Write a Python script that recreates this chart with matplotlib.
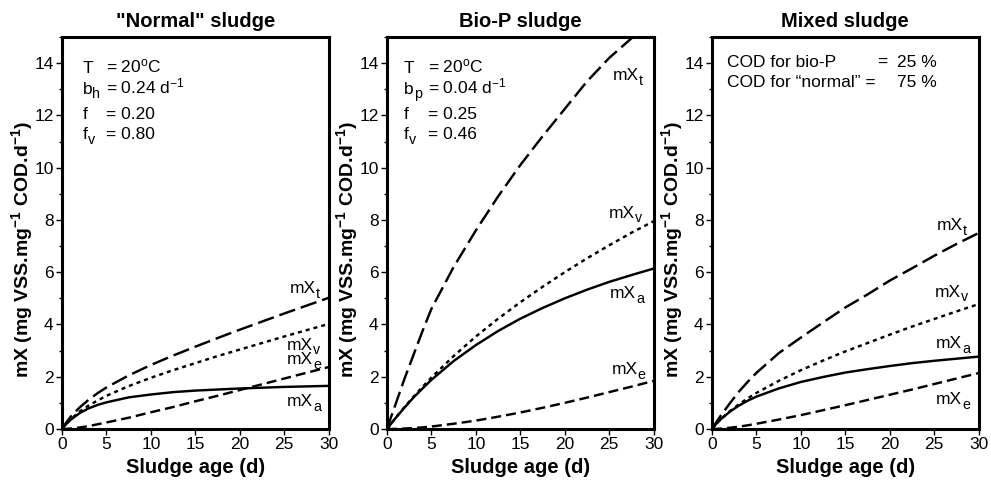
import matplotlib
matplotlib.use('Agg')
import matplotlib.pyplot as plt
from matplotlib.ticker import MultipleLocator

plt.rcParams['font.family'] = ['Liberation Sans', 'DejaVu Sans']
plt.rcParams['mathtext.default'] = 'regular'
plt.rcParams['lines.scale_dashes'] = False

# sludge age (d)
sludge_age = [0, 0.5, 1, 2, 3, 4, 5, 7.5, 10, 12.5, 15, 17.5, 20, 22.5, 25, 27.5, 30]

# "Normal" sludge
normal_t = [0, 0.26, 0.48, 0.83, 1.12, 1.37, 1.59, 2.05, 2.45, 2.81, 3.15, 3.48, 3.80, 4.11, 4.42, 4.72, 5.02]
normal_v = [0, 0.21, 0.38, 0.67, 0.90, 1.09, 1.27, 1.64, 1.96, 2.25, 2.52, 2.79, 3.04, 3.29, 3.54, 3.78, 4.02]
normal_e = [0, 0.005, 0.017, 0.058, 0.11, 0.18, 0.25, 0.43, 0.64, 0.84, 1.06, 1.27, 1.49, 1.71, 1.93, 2.15, 2.37]
normal_a = [0, 0.20, 0.36, 0.61, 0.79, 0.92, 1.02, 1.21, 1.32, 1.41, 1.47, 1.51, 1.55, 1.58, 1.61, 1.63, 1.65]

# Bio-P sludge
biop_t = [0, 0.5, 0.98, 1.95, 2.85, 3.75, 4.6, 6.2, 7.6, 8.9, 10.1, 11.2, 12.25, 13.3, 14.2, 14.95, 15.7]
biop_v = [0, 0.22, 0.44, 0.85, 1.24, 1.61, 1.97, 2.79, 3.54, 4.22, 4.85, 5.44, 6.00, 6.53, 7.03, 7.51, 7.95]
biop_e = [0, 0.001, 0.004, 0.017, 0.036, 0.062, 0.094, 0.20, 0.32, 0.47, 0.63, 0.81, 1.00, 1.20, 1.41, 1.62, 1.84]
biop_a = [0, 0.22, 0.43, 0.83, 1.21, 1.55, 1.88, 2.60, 3.21, 3.75, 4.22, 4.63, 5.00, 5.33, 5.63, 5.89, 6.14]

# Mixed sludge
mixed_t = [0, 0.27, 0.52, 0.98, 1.42, 1.80, 2.15, 2.90, 3.50, 4.08, 4.65, 5.15, 5.68, 6.15, 6.63, 7.08, 7.50]
mixed_v = [0, 0.20, 0.38, 0.68, 0.94, 1.17, 1.38, 1.84, 2.25, 2.62, 2.97, 3.29, 3.61, 3.92, 4.21, 4.50, 4.78]
mixed_e = [0, 0.004, 0.013, 0.046, 0.09, 0.14, 0.20, 0.36, 0.53, 0.72, 0.91, 1.11, 1.31, 1.51, 1.72, 1.93, 2.14]
mixed_a = [0, 0.21, 0.38, 0.66, 0.89, 1.08, 1.24, 1.55, 1.80, 1.99, 2.16, 2.29, 2.41, 2.52, 2.61, 2.69, 2.77]

titles = ['"Normal" sludge', 'Bio-P sludge', 'Mixed sludge']
series = [(normal_t, normal_v, normal_e, normal_a),
          (biop_t, biop_v, biop_e, biop_a),
          (mixed_t, mixed_v, mixed_e, mixed_a)]

# curve labels: (subscript, x, y) per panel
curve_labels = [
    [('t', 25.6, 5.2), ('v', 25.3, 3.04), ('e', 25.3, 2.47), ('a', 25.3, 0.88)],
    [('t', 25.4, 13.35), ('v', 24.95, 8.09), ('e', 25.3, 2.09), ('a', 25.1, 5.01)],
    [('t', 25.3, 7.6), ('v', 25.1, 5.07), ('e', 25.2, 0.95), ('a', 25.2, 3.1)],
]

# parameter boxes: (symbol, subscript, value)
normal_par = [('T', '', '= 20$^o$C'), ('b', 'h', '= 0.24 d$^{-1}$'), ('f', '', '= 0.20'), ('f', 'v', '= 0.80')]
biop_par = [('T', '', '= 20$^o$C'), ('b', 'p', '= 0.04 d$^{-1}$'), ('f', '', '= 0.25'), ('f', 'v', '= 0.46')]
par_y = [13.64, 12.84, 11.86, 11.1]

styles = [(0, (12, 4.3)), (0, (2.9, 2.9)), (0, (7.2, 3.6)), '-']
FS = 12.5
em = {'m': 0.833, 'X': 0.667, 'b': 0.556, 'f': 0.278, 'T': 0.611}


def sub_text(ax, x, y, main, sub, size=FS):
    ax.text(x, y, main, fontsize=size)
    if sub:
        w = sum(em[c] for c in main) * size
        ax.annotate(sub, (x, y), xytext=(w, -3.3), textcoords='offset points',
                    fontsize=size * 0.82)


fig = plt.figure(figsize=(9.91, 4.82), dpi=100)
lefts = [0.0626, 0.3905, 0.7185]

for i in range(3):
    ax = fig.add_axes([lefts[i], 0.110, 0.269, 0.813])
    for s, ls in zip(series[i], styles):
        ax.plot(sludge_age, s, color='black', lw=1.75, linestyle=ls)
    ax.set_xlim(0, 30)
    ax.set_ylim(0, 15)
    ax.xaxis.set_major_locator(MultipleLocator(5))
    ax.yaxis.set_major_locator(MultipleLocator(2))
    ax.yaxis.set_minor_locator(MultipleLocator(1))
    ax.tick_params(which='major', direction='out', length=4, width=1, labelsize=12.5, pad=2)
    ax.tick_params(which='minor', direction='out', length=2.5, width=1)
    for sp in ax.spines.values():
        sp.set_linewidth(2.2)
    ax.set_title(titles[i], fontsize=14.5, fontweight='bold', pad=7)
    ax.set_xlabel('Sludge age (d)', fontsize=14.5, fontweight='bold', labelpad=4)
    ax.set_ylabel('mX (mg VSS.mg$^{-1}$ COD.d$^{-1}$)', fontsize=14, fontweight='bold')
    ax.yaxis.set_label_coords(-0.1, 0.457)
    for sub, x, y in curve_labels[i]:
        sub_text(ax, x, y, 'mX', sub)

axs = fig.axes
for (p, s, v), y in zip(normal_par, par_y):
    sub_text(axs[0], 2.33, y, p, s)
    axs[0].text(4.9, y, v, fontsize=FS)
for (p, s, v), y in zip(biop_par, par_y):
    sub_text(axs[1], 1.92, y, p, s)
    axs[1].text(4.6, y, v, fontsize=FS)

axs[2].text(1.7, 13.85, 'COD for bio-P', fontsize=FS)
axs[2].text(18.6, 13.85, '=', fontsize=FS)
axs[2].text(20.8, 13.85, '25 %', fontsize=FS)
axs[2].text(1.7, 13.08, 'COD for \u201cnormal\u201d =', fontsize=FS)
axs[2].text(20.8, 13.08, '75 %', fontsize=FS)

plt.savefig('out.png', dpi=100)
